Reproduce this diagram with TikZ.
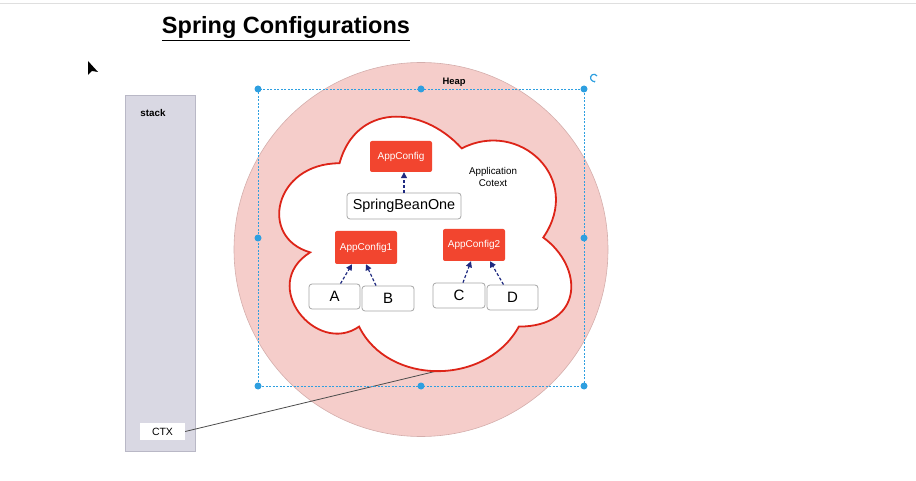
\documentclass[tikz,border=0pt]{standalone}
\usepackage{fontspec}
\setmainfont{Liberation Sans}
\usepackage{tikz}
\usetikzlibrary{arrows.meta, positioning}
\usepackage{xcolor}
\definecolor{stackcolor}{HTML}{D9D8E3}
\definecolor{stackline}{HTML}{B9B8C6}
\definecolor{heapcolor}{HTML}{F5CDCA}
\definecolor{heapline}{HTML}{D4AEAC}
\definecolor{cloudline}{HTML}{DD2418}
\definecolor{beancolor}{HTML}{F2452F}
\definecolor{selcolor}{HTML}{2E9FE0}
\definecolor{depcolor}{HTML}{1F2A80}

\begin{document}
\begin{tikzpicture}[x=1pt, y=-1pt,
    cfgbox/.style={fill=beancolor, text=white, rounded corners=2pt, minimum width=62pt, minimum height=32pt, inner sep=0pt, font=\fontsize{10}{12}\selectfont},
    plainbox/.style={draw=gray!70, fill=white, rounded corners=3pt, inner sep=0pt, line width=0.8pt},
    dep/.style={depcolor, line width=1.2pt, dash pattern=on 3pt off 2pt, -{Triangle[length=6pt, width=6pt]}},
    handle/.style={fill=selcolor},
]
    \useasboundingbox (0,0) rectangle (916,481);

    % Page edge and title
    \draw[gray!25, line width=1pt] (0,4) -- (916,4);
    \node[anchor=base, font=\fontsize{23.5}{28}\selectfont\bfseries] (title) at (286,34) {\underline{Spring Configurations}};

    % Mouse pointer
    \fill[black] (88,61) -- (88,75) -- (92,71) -- (98,72) -- cycle;

    % Stack
    \draw[stackline, fill=stackcolor, line width=0.8pt] (125,95) rectangle (195,451);
    \node[font=\fontsize{9.8}{12}\selectfont\bfseries] (stacklabel) at (153,113) {stack};
    \node[fill=white, minimum width=45pt, minimum height=17pt, inner sep=0pt, font=\fontsize{10.5}{12}\selectfont] (ctx) at (162.5,431.5) {CTX};

    % Heap
    \draw[heapline, fill=heapcolor, line width=0.6pt] (421,249.5) circle (187pt);
    \node[font=\fontsize{9.4}{11}\selectfont\bfseries] (heaplabel) at (454,82) {Heap};

    % Reference from the stack into the context
    \coordinate (ctxend) at (437,371);
    \draw[gray!60!black, line width=0.8pt] (ctx.east) -- (ctxend);

    % Application context (cloud)
    \begin{scope}[shift={(258,89)}, x=326pt, y=-297pt]
        \draw[cloudline, fill=white, line width=1.8pt]
            (0.25,0.25) .. controls (0.05,0.25) and (0,0.5) .. (0.16,0.55)
            .. controls (0,0.66) and (0.18,0.9) .. (0.31,0.8)
            .. controls (0.4,1) and (0.7,1) .. (0.8,0.8)
            .. controls (1,0.8) and (1,0.6) .. (0.875,0.5)
            .. controls (1,0.3) and (0.8,0.1) .. (0.625,0.2)
            .. controls (0.5,0.05) and (0.3,0.05) .. cycle;
    \end{scope}
    \node[align=center, font=\fontsize{9.8}{12}\selectfont] (ctxlabel) at (493,177) {Application\\Cotext};

    % Selection frame
    \draw[selcolor, line width=0.7pt, dash pattern=on 2pt off 1.5pt] (258,89) rectangle (584,386);
    \foreach \px/\py in {258/89, 421/89, 584/89, 258/238, 584/238, 258/386, 421/386, 584/386}
        \fill[handle] (\px,\py) circle (3.5pt);
    \draw[selcolor, line width=1.2pt, -{Stealth[length=2.5pt]}] (597,76) arc (30:300:3.5pt);

    % Beans
    \node[cfgbox, minimum height=31pt] (cfg) at (401,156.5) {AppConfig};
    \node[plainbox, minimum width=114pt, minimum height=26pt, font=\fontsize{14.4}{16}\selectfont] (bean) at (404,206) {SpringBeanOne};
    \node[cfgbox, minimum height=33pt] (cfgone) at (366,247.5) {AppConfig1};
    \node[cfgbox] (cfgtwo) at (474,245) {AppConfig2};

    \node[plainbox, minimum width=51pt, minimum height=25pt, font=\fontsize{15}{17}\selectfont] (a) at (334.5,296.5) {A};
    \node[plainbox, minimum width=52pt, minimum height=25pt, font=\fontsize{15}{17}\selectfont] (b) at (388,298.5) {B};
    \node[plainbox, minimum width=52pt, minimum height=25pt, font=\fontsize{15}{17}\selectfont] (c) at (459,295.5) {C};
    \node[plainbox, minimum width=51pt, minimum height=25pt, font=\fontsize{15}{17}\selectfont] (d) at (512.5,297.5) {D};

    % Dependencies
    \draw[dep] (bean.north) -- (bean.north |- cfg.south);
    \draw[dep] ([xshift=6pt]a.north) -- ([xshift=-14pt]cfgone.south);
    \draw[dep] ([xshift=-12pt]b.north) -- ([xshift=0pt]cfgone.south);
    \draw[dep] ([xshift=4pt]c.north) -- ([xshift=-3pt]cfgtwo.south);
    \draw[dep] ([xshift=-9pt]d.north) -- ([xshift=16pt]cfgtwo.south);
\end{tikzpicture}
\end{document}
